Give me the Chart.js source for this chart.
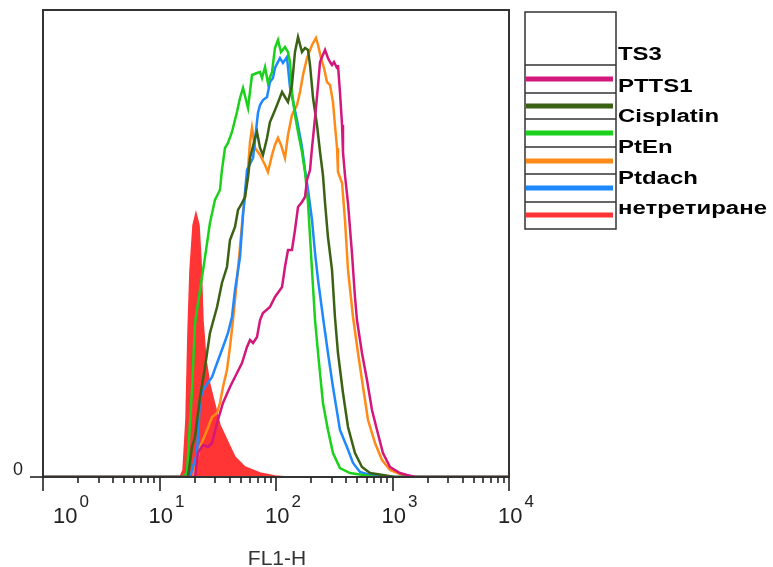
<!DOCTYPE html>
<html><head><meta charset="utf-8">
<script src="https://cdn.jsdelivr.net/npm/chart.js@4/dist/chart.umd.min.js"></script>
<style>html,body{margin:0;padding:0;background:#fff}canvas{display:block}</style>
</head><body>
<canvas id="c" width="773" height="567"></canvas>
<script>
// Legend entries (row order) and colours
const seriesNames = ['TS3','PTTS1','Cisplatin','PtEn','Ptdach','нетретиране'];
const seriesColors = ['#d3177b','#3b6214','#1bd11b','#ff8a17','#1f88ff','#ff3535'];
// X axis: log10 decades of FL1-H
const decadeTicks = [0,1,2,3,4];
const decadeExponents = ['0','1','2','3','4'];
const yTickLabels = ['0'];
const xTitle = 'FL1-H';

// TS3 (magenta)
const ts3X = [0,1.305,1.330,1.373,1.416,1.451,1.494,1.545,1.605,1.665,1.708,1.751,1.777,1.803,1.837,1.863,1.888,1.948,1.991,2.052,2.077,2.103,2.137,2.163,2.189,2.223,2.249,2.266,2.292,2.309,2.335,2.361,2.378,2.395,2.421,2.446,2.464,2.481,2.498,2.524,2.532,2.549,2.567,2.575,2.592,2.618,2.652,2.678,2.695,2.738,2.781,2.824,2.867,2.918,2.979,3.064,3.124,3.2,4];
const ts3Y = [0,0,24,32,30,34,54,74,90,104,114,130,137,134,140,157,164,170,180,190,210,227,227,247,270,275,280,297,307,329,359,392,415,420,427,419,415,412,415,409,412,385,352,325,302,274,224,180,157,124,97,67,47,24,10,4,2,0,0];
// PTTS1 (dark green)
const ptts1X = [0,1.245,1.279,1.305,1.348,1.391,1.433,1.494,1.536,1.579,1.605,1.648,1.674,1.708,1.734,1.760,1.777,1.820,1.837,1.863,1.888,1.923,1.948,1.974,2.009,2.052,2.077,2.103,2.137,2.163,2.189,2.223,2.249,2.275,2.292,2.318,2.352,2.378,2.403,2.421,2.446,2.481,2.506,2.532,2.575,2.618,2.678,2.738,2.807,2.918,3.021,4];
const ptts1Y = [0,0,30,40,80,110,144,170,194,210,237,250,267,274,280,300,319,339,345,329,322,339,355,362,372,385,380,375,392,425,440,425,429,427,412,379,352,325,302,274,240,207,160,124,84,50,24,10,4,2,0,0];
// Cisplatin (green)
const cisX = [0,1.202,1.236,1.279,1.305,1.348,1.391,1.433,1.476,1.519,1.536,1.562,1.588,1.622,1.665,1.691,1.717,1.760,1.794,1.837,1.863,1.880,1.906,1.931,1.966,1.991,2.017,2.043,2.077,2.103,2.120,2.137,2.163,2.189,2.223,2.249,2.275,2.309,2.335,2.361,2.403,2.446,2.489,2.549,2.635,2.747,2.85,4];
const cisY = [0,0,4,87,154,187,220,254,277,287,307,329,334,345,365,379,389,369,402,404,405,399,410,394,405,429,437,425,430,425,415,385,362,345,325,305,274,207,157,124,74,47,24,9,4,2,0,0];
// PtEn (orange)
const ptenX = [0,1.288,1.348,1.408,1.451,1.494,1.519,1.545,1.579,1.605,1.631,1.665,1.691,1.717,1.751,1.760,1.777,1.794,1.820,1.863,1.906,1.931,1.966,1.991,2.017,2.043,2.077,2.103,2.137,2.180,2.206,2.232,2.266,2.309,2.343,2.361,2.386,2.412,2.438,2.464,2.489,2.506,2.524,2.532,2.567,2.592,2.618,2.661,2.704,2.747,2.790,2.850,2.910,2.979,3.064,3.15,4];
const ptenY = [0,0,30,47,60,64,74,90,107,130,157,197,230,264,297,309,335,349,329,322,312,305,322,332,339,332,319,342,362,372,385,402,419,432,439,432,419,409,395,392,375,352,329,305,294,257,207,160,124,90,57,34,17,7,3,0,0];
// Ptdach (blue)
const ptdachX = [0,1.262,1.322,1.348,1.373,1.451,1.494,1.545,1.588,1.622,1.648,1.691,1.717,1.751,1.803,1.845,1.863,1.888,1.923,1.948,1.974,1.991,2.034,2.060,2.094,2.120,2.180,2.223,2.249,2.275,2.309,2.335,2.361,2.403,2.446,2.489,2.549,2.609,2.661,2.721,2.807,2.936,4];
const ptdachY = [0,0,24,77,87,100,114,130,144,160,187,220,262,307,319,364,372,377,380,395,399,409,419,414,420,390,357,330,307,287,257,224,197,160,124,90,47,30,14,5,2,0,0];
// нетретиране (red, filled)
const untreatedX = [0,1.176,1.202,1.227,1.245,1.262,1.288,1.313,1.339,1.356,1.373,1.399,1.433,1.476,1.519,1.579,1.648,1.734,1.863,1.991,2.1,4];
const untreatedY = [0,0,7,57,147,207,252,264,252,217,157,117,92,72,52,37,20,10,4,1,0,0];

const pts = (xs, ys) => xs.map((v, i) => ({x: v, y: ys[i]}));
const lineDs = (label, xs, ys, color) => ({label, data: pts(xs, ys), borderColor: color, backgroundColor: color, borderWidth: 2.5, fill: false});

const datasets = [
  lineDs(seriesNames[0], ts3X, ts3Y, seriesColors[0]),
  lineDs(seriesNames[1], ptts1X, ptts1Y, seriesColors[1]),
  lineDs(seriesNames[2], cisX, cisY, seriesColors[2]),
  lineDs(seriesNames[4], ptdachX, ptdachY, seriesColors[4]),
  lineDs(seriesNames[3], ptenX, ptenY, seriesColors[3]),
  {label: seriesNames[5], data: pts(untreatedX, untreatedY), borderColor: seriesColors[5], backgroundColor: seriesColors[5], borderWidth: 1.5, fill: 'origin'}
];

const decorPlugin = {
  id: 'decor',
  afterDatasetsDraw(chart) {
    const {ctx, chartArea: a, scales: {x}} = chart;
    ctx.save();
    // frame
    ctx.strokeStyle = '#333'; ctx.lineWidth = 2;
    ctx.strokeRect(a.left, a.top, a.right - a.left, a.bottom - a.top);
    // x ticks
    ctx.strokeStyle = '#222'; ctx.lineWidth = 1.6;
    const seg = (x1, y1, x2, y2) => { ctx.beginPath(); ctx.moveTo(x1, y1); ctx.lineTo(x2, y2); ctx.stroke(); };
    decadeTicks.forEach(d => { const px = Math.round(x.getPixelForValue(d)); seg(px, a.bottom, px, a.bottom + 14); });
    for (let n = 0; n < decadeTicks.length - 1; n++) {
      for (let k = 2; k <= 9; k++) {
        const px = Math.round(x.getPixelForValue(decadeTicks[n] + Math.log10(k)));
        seg(px, a.bottom, px, a.bottom + 6);
      }
    }
    // y tick at zero
    seg(a.left - 13, a.bottom, a.left, a.bottom);
    // x tick labels
    ctx.fillStyle = '#222'; ctx.textBaseline = 'alphabetic';
    decadeTicks.forEach((d, i) => {
      const px = x.getPixelForValue(d);
      const left = i === 0 ? px + 10 : px - 11;
      ctx.font = '22px "Liberation Sans", Arial, sans-serif';
      ctx.textAlign = 'left';
      ctx.fillText('10', left, 523);
      const w = ctx.measureText('10').width;
      ctx.font = '17px "Liberation Sans", Arial, sans-serif';
      ctx.fillText(decadeExponents[i], left + w + 2, 507);
    });
    // y tick label
    ctx.font = '18px "Liberation Sans", Arial, sans-serif';
    ctx.textAlign = 'right';
    ctx.fillText(yTickLabels[0], 23, 475);
    // x title
    ctx.fillStyle = '#333';
    ctx.font = '21px "Liberation Sans", Arial, sans-serif';
    ctx.textAlign = 'center';
    ctx.fillText(xTitle, 277, 565);
    // legend
    const L = 525, R = 616, T = 12, B = 229;
    const seps = [65, 93, 119, 147, 174, 202];
    const lineYs = [79, 106, 133, 161, 188, 215];
    const textYs = [60, 92, 122, 153, 184, 214];
    ctx.strokeStyle = '#333'; ctx.lineWidth = 1.5;
    ctx.strokeRect(L, T, R - L, B - T);
    seps.forEach(sy => seg(L, sy, R, sy));
    ctx.lineWidth = 5; ctx.lineCap = 'butt';
    lineYs.forEach((ly, i) => { ctx.strokeStyle = seriesColors[i]; seg(L + 1, ly, R - 3, ly); });
    ctx.fillStyle = '#000';
    ctx.font = 'bold 18px "Liberation Sans", Arial, sans-serif';
    ctx.textAlign = 'left';
    seriesNames.forEach((nm, i) => {
      ctx.save();
      ctx.translate(618, textYs[i]);
      ctx.scale(1.33, 1);
      ctx.fillText(nm, 0, 0);
      ctx.restore();
    });
    ctx.restore();
  }
};

new Chart(document.getElementById('c'), {
  type: 'line',
  data: {datasets},
  options: {
    responsive: false,
    animation: false,
    devicePixelRatio: 1,
    layout: {padding: {left: 43, top: 10, right: 264, bottom: 90}},
    elements: {point: {radius: 0}, line: {tension: 0}},
    scales: {
      x: {type: 'linear', min: 0, max: 4, display: false},
      y: {type: 'linear', min: 0, max: 467, display: false}
    },
    plugins: {legend: {display: false}, tooltip: {enabled: false}}
  },
  plugins: [decorPlugin]
});
</script>
</body></html>
